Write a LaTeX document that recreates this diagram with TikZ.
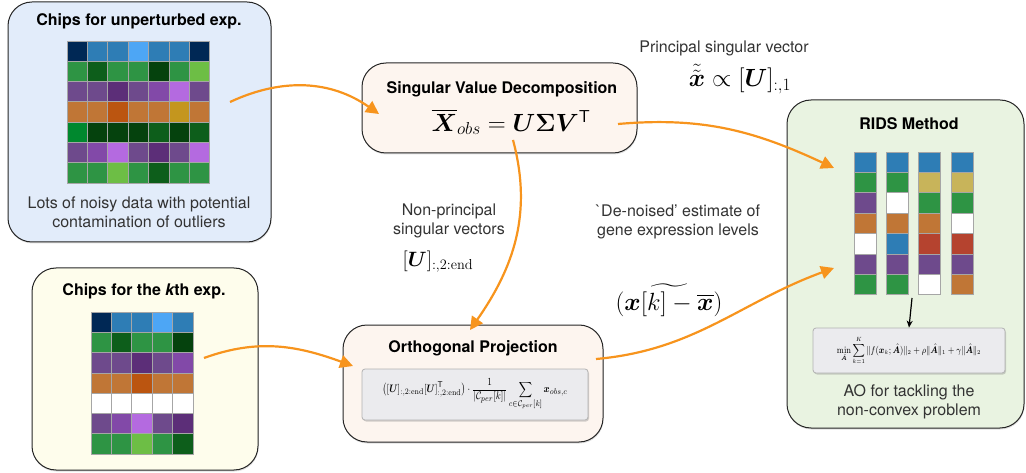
\documentclass[tikz,border=0pt]{standalone}
\usepackage{amsmath,bm,graphicx}
\usepackage[no-math]{fontspec}
\setmainfont{TeX Gyre Heros}
\usetikzlibrary{arrows.meta,shadows}

\definecolor{chipnavy}{HTML}{002855}
\definecolor{chipblue}{HTML}{2E7DB5}
\definecolor{chipsky}{HTML}{4DA6F5}
\definecolor{chipgreen}{HTML}{2E9444}
\definecolor{chipdkgreen}{HTML}{0D5E1B}
\definecolor{chipvdgreen}{HTML}{05420D}
\definecolor{chiplime}{HTML}{6DBE45}
\definecolor{chipbright}{HTML}{00882E}
\definecolor{chippurple}{HTML}{6E4A8C}
\definecolor{chipdkpurple}{HTML}{5C2E78}
\definecolor{chipviolet}{HTML}{8249A8}
\definecolor{chiplilac}{HTML}{B46AE0}
\definecolor{chiporange}{HTML}{C07636}
\definecolor{chiprust}{HTML}{BB5510}
\definecolor{chipgold}{HTML}{C4961E}
\definecolor{chipkhaki}{HTML}{C8B45A}
\definecolor{chipred}{HTML}{B5432F}
\definecolor{flow}{HTML}{F7941D}
\definecolor{bluebg}{HTML}{E2ECFA}
\definecolor{yellowbg}{HTML}{FEFDEC}
\definecolor{peachbg}{HTML}{FDF5EF}
\definecolor{greenbg}{HTML}{E9F3E1}
\definecolor{formulabg}{HTML}{EBEBEE}

\begin{document}
\begin{tikzpicture}[x=1pt,y=-1pt,
    panel/.style={draw=black!85,line width=1pt,rounded corners=24pt,
        drop shadow={opacity=0.25,shadow xshift=0.5pt,shadow yshift=-1.5pt}},
    title/.style={font=\fontsize{16}{19}\selectfont\bfseries},
    note/.style={font=\fontsize{16}{19}\selectfont,text=black!80,align=center},
    eqbox/.style={draw=black!30,fill=formulabg,rounded corners=3pt,line width=0.8pt,
        drop shadow={opacity=0.35,shadow xshift=1pt,shadow yshift=-1.5pt}},
    cell/.style={draw=black!35,line width=0.8pt},
    flowarrow/.style={draw=flow,line width=2.2pt,-{Triangle[length=13pt,width=13pt]}}]

    \useasboundingbox (0,0) rectangle (1026,473);

    % panels
    \node[panel, fill=bluebg, minimum width=263pt, minimum height=240pt] (unpert) at (139.5,122) {};
    \node[panel, fill=yellowbg, minimum width=226pt, minimum height=202pt] (kth) at (145,369) {};
    \node[panel, fill=peachbg, minimum width=275pt, minimum height=90pt] (svd) at (499.5,108) {};
    \node[panel, fill=peachbg, minimum width=260pt, minimum height=117pt] (orth) at (473,383.5) {};
    \node[panel, fill=greenbg, minimum width=237pt, minimum height=328pt] (rids) at (905.5,264) {};

    % chips for unperturbed exp.
    \node[title] (unperttitle) at (139,21) {Chips for unperturbed exp.};
    \foreach \row [count=\r] in {
        {chipnavy,chipblue,chipblue,chipsky,chipblue,chipblue,chipnavy},
        {chipgreen,chipdkgreen,chipgreen,chipgreen,chipvdgreen,chipgreen,chiplime},
        {chippurple,chippurple,chipdkpurple,chippurple,chipviolet,chiplilac,chippurple},
        {chiporange,chiporange,chiprust,chiporange,chiporange,chipgold,chiporange},
        {chipbright,chipvdgreen,chipvdgreen,chipvdgreen,chipdkgreen,chipvdgreen,chipdkgreen},
        {chippurple,chipviolet,chiplilac,chippurple,chipdkpurple,chippurple,chiplilac},
        {chipgreen,chipgreen,chiplime,chipgreen,chipdkgreen,chipgreen,chipgreen}}
        \foreach \c [count=\i] in \row
            \filldraw[cell, fill=\c] ({67+20.4*(\i-1)},{41+20.3*(\r-1)}) rectangle +(20.4,20.3);
    \node[note] (unpertnote) at (139,212) {Lots of noisy data with potential\\contamination of outliers};

    % chips for the kth exp.
    \node[title] (kthtitle) at (144,291) {Chips for the {\itshape k}th exp.};
    \foreach \row [count=\r] in {
        {chipnavy,chipblue,chipblue,chipsky,chipblue},
        {chipgreen,chipdkgreen,chipgreen,chipgreen,chipvdgreen},
        {chippurple,chippurple,chipdkpurple,chippurple,chipviolet},
        {chiporange,chiporange,chiprust,chiporange,chiporange},
        {white,white,white,white,white},
        {chippurple,chipviolet,chiplilac,chippurple,chipdkpurple},
        {chipgreen,chipgreen,chiplime,chipgreen,chipdkgreen}}
        \foreach \c [count=\i] in \row
            \filldraw[cell, fill=\c] ({91+20.4*(\i-1)},{312+20.3*(\r-1)}) rectangle +(20.4,20.3);

    % svd
    \node[title] (svdtitle) at (502,89) {Singular Value Decomposition};
    \node[font=\fontsize{23}{26}\selectfont] (svdeq) at (511,122)
        {$\overline{\boldsymbol X}_{obs} = \boldsymbol U\boldsymbol\Sigma\boldsymbol V^{\mathsf T}$};

    % orthogonal projection
    \node[title] (orthtitle) at (473,348) {Orthogonal Projection};
    \node[eqbox, minimum width=226pt, minimum height=51pt, font=\fontsize{9.5}{11}\selectfont] (ortheq) at (475,394.5)
        {\scalebox{1}[1.2]{$\displaystyle\bigl([\boldsymbol U]_{:,2:\mathrm{end}}[\boldsymbol U]^{\mathsf T}_{:,2:\mathrm{end}}\bigr)\cdot
          \frac{1}{|\mathcal C_{per}[k]|}\sum_{c\in\mathcal C_{per}[k]}\boldsymbol x_{obs,c}$}};

    % rids
    \node[title] (ridstitle) at (909,124) {RIDS Method};
    \foreach \col [count=\i] in {
        {chipblue,chipgreen,chippurple,chiporange,white,chippurple,chipgreen},
        {chipblue,chipgreen,white,chiporange,chipblue,chippurple,chipgreen},
        {chipblue,chipkhaki,chipgreen,chiporange,chipred,chippurple,white},
        {chipblue,chipkhaki,chipgreen,white,chipred,chippurple,chiporange}}
        \foreach \c [count=\r] in \col
            \filldraw[cell, fill=\c] ({854+32.3*(\i-1)},{152+20.4*(\r-1)}) rectangle +(22,20.4);
    \coordinate (ridscols) at (912,298);
    \node[eqbox, minimum width=192pt, minimum height=45pt, font=\fontsize{7.6}{9}\selectfont] (ridseq) at (909,350.5)
        {\scalebox{1}[1.2]{$\displaystyle\min_{\hat{\boldsymbol A}}\sum_{k=1}^{K}\|f(\boldsymbol x_k;\hat{\boldsymbol A})\|_2
          +\rho\|\hat{\boldsymbol A}\|_1+\gamma\|\hat{\boldsymbol A}\|_2$}};
    \node[note] (ridsnote) at (909,401.5) {AO for tackling the\\non-convex problem};
    \draw[-{Stealth[length=7pt,width=6pt]}, line width=1.2pt] (ridscols) -- (ridseq.north);

    % labels
    \node[note] (princlabel) at (724,48) {Principal singular vector};
    \node[font=\fontsize{24}{28}\selectfont] (princeq) at (740,79)
        {$\tilde{\tilde{\boldsymbol x}}\propto[\boldsymbol U]_{:,1}$};
    \node[note] (nonprinclabel) at (449,221) {Non-principal\\singular vectors};
    \node[font=\fontsize{22}{26}\selectfont] (nonprinceq) at (438,262)
        {$[\boldsymbol U]_{:,2:\mathrm{end}}$};
    \node[note] (denoisedlabel) at (678,222) {\textasciigrave De-noised' estimate of\\gene expression levels};
    \node[font=\fontsize{25}{28}\selectfont] (denoisedeq) at (669,300)
        {$(\widetilde{\boldsymbol x[k]-\overline{\boldsymbol x}})$};

    % flow arrows
    \coordinate (a1s) at (230,102);  \coordinate (a1e) at (379,114);
    \coordinate (a2s) at (618,124);  \coordinate (a2e) at (834,168);
    \coordinate (a3s) at (513,140);  \coordinate (a3e) at (470,330);
    \coordinate (a4s) at (204,358);  \coordinate (a4e) at (353,366);
    \coordinate (a5s) at (596,359);  \coordinate (a5e) at (834,268);
    \draw[flowarrow] (a1s) to[out=25,in=145] (a1e);
    \draw[flowarrow] (a2s) to[out=5,in=155] (a2e);
    \draw[flowarrow] (a3s) to[out=-75,in=55] (a3e);
    \draw[flowarrow] (a4s) to[out=20,in=160] (a4e);
    \draw[flowarrow] (a5s) to[out=5,in=200] (a5e);
\end{tikzpicture}
\end{document}
